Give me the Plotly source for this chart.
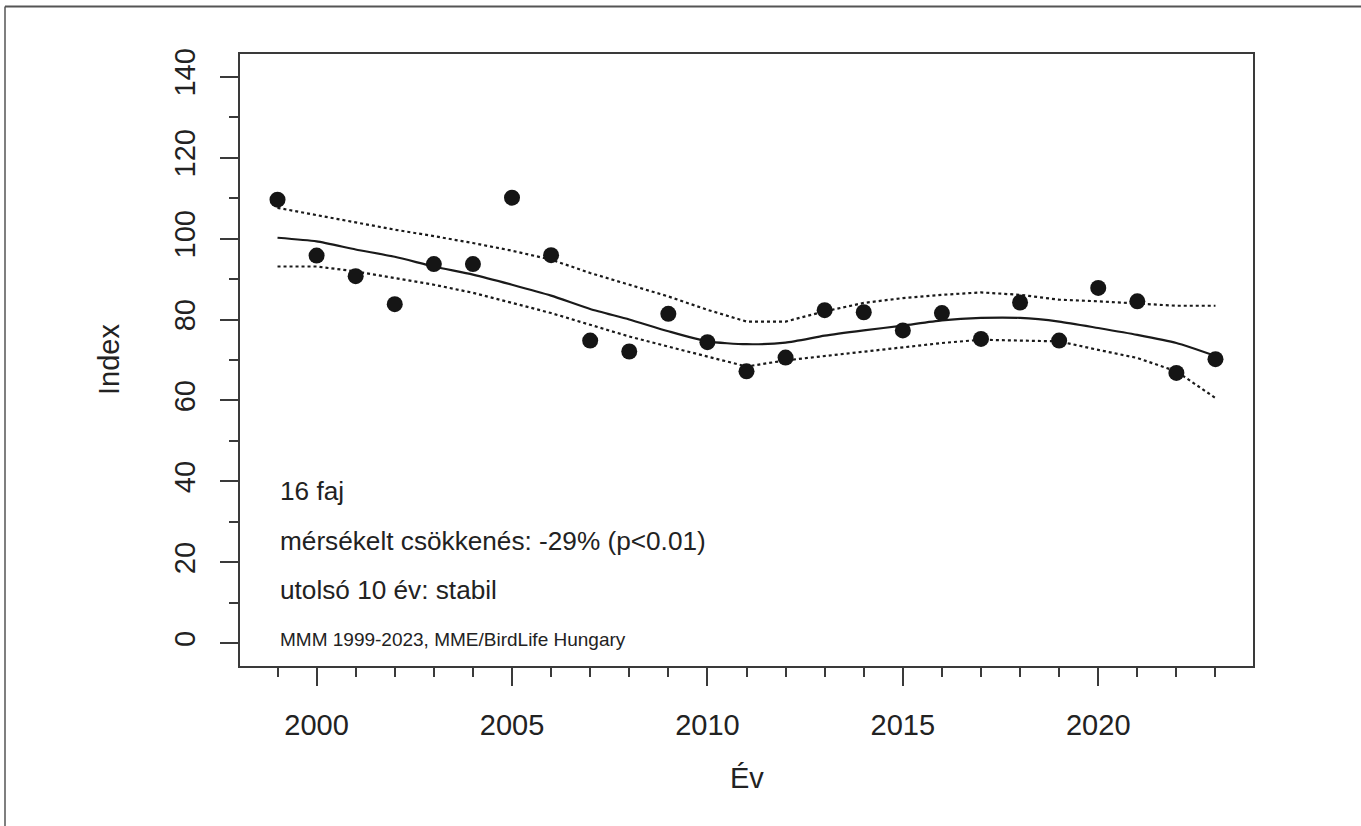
import plotly.graph_objects as go

years = list(range(1999, 2024))
index_vals = [109.6, 95.8, 90.7, 83.8, 93.7, 93.7, 110.1, 95.9, 74.8, 72.1, 81.4, 74.4, 67.2,
              70.6, 82.3, 81.8, 77.3, 81.6, 75.2, 84.2, 74.8, 87.8, 84.5, 66.8, 70.2]
trend = [100.2, 99.3, 97.3, 95.5, 93.1, 91.1, 88.6, 85.9, 82.6, 80.0, 77.1, 74.6, 73.9,
         74.3, 76.0, 77.3, 78.5, 79.8, 80.4, 80.4, 79.5, 77.9, 76.2, 74.2, 71.0]
upper = [107.6, 105.8, 103.9, 102.2, 100.6, 98.9, 97.0, 94.8, 91.5, 88.6, 85.7, 82.4, 79.5,
         79.5, 82.0, 84.1, 85.3, 86.1, 86.7, 86.1, 84.9, 84.5, 83.9, 83.4, 83.4]
lower = [93.1, 93.1, 91.9, 90.3, 88.6, 86.6, 84.1, 81.6, 78.7, 75.8, 73.3, 70.9, 68.4,
         69.9, 71.0, 72.1, 73.2, 74.2, 75.0, 74.8, 74.6, 72.5, 70.5, 67.2, 60.6]

x_ticks = [2000, 2005, 2010, 2015, 2020]
y_ticks = [0, 20, 40, 60, 80, 100, 120, 140]
info_lines = ["16 faj", "mérsékelt csökkenés: -29% (p<0.01)", "utolsó 10 év: stabil"]
credit = "MMM 1999-2023, MME/BirdLife Hungary"

FONT = "Liberation Sans, Arial, sans-serif"
TXT = "#222222"
AX = "#3a3a3a"

fig = go.Figure()
fig.add_trace(go.Scatter(x=years, y=upper, mode="lines",
                         line=dict(color="#1a1a1a", width=2.2, dash="dot"), hoverinfo="skip"))
fig.add_trace(go.Scatter(x=years, y=lower, mode="lines",
                         line=dict(color="#1a1a1a", width=2.2, dash="dot"), hoverinfo="skip"))
fig.add_trace(go.Scatter(x=years, y=trend, mode="lines", line=dict(color="#1a1a1a", width=2.2,
                         shape="spline", smoothing=0.6)))
fig.add_trace(go.Scatter(x=years, y=index_vals, mode="markers",
                         marker=dict(color="#151515", size=16, line=dict(width=0))))

L, R, T, B = 240, 108, 54, 160
W, H = 1361, 826
pw, ph = W - L - R, H - T - B

def px_x(p):
    return (p - L) / pw

def px_y(p):
    return (H - B - p) / ph

ann = []
ys = [37.6, 25.2, 13.1]
for t, yv in zip(info_lines, ys):
    ann.append(dict(x=1999, y=yv, xref="x", yref="y", text=t, showarrow=False,
                    xanchor="left", yanchor="middle", font=dict(family=FONT, size=26.2, color=TXT)))
ann.append(dict(x=1999, y=0.9, xref="x", yref="y", text=credit, showarrow=False,
                xanchor="left", yanchor="middle", font=dict(family=FONT, size=19, color=TXT)))
ann.append(dict(x=px_x(109), y=0.5, xref="paper", yref="paper", text="Index", showarrow=False,
                textangle=-90, xanchor="center", yanchor="middle",
                font=dict(family=FONT, size=29, color=TXT)))
ann.append(dict(x=0.5, y=px_y(778), xref="paper", yref="paper", text="Év", showarrow=False,
                xanchor="center", yanchor="middle", font=dict(family=FONT, size=29, color=TXT)))

shapes = [
    dict(type="line", xref="paper", yref="paper", x0=px_x(5), x1=px_x(1400), y0=px_y(6.5), y1=px_y(6.5),
         line=dict(color="#555555", width=2)),
    dict(type="line", xref="paper", yref="paper", x0=px_x(5), x1=px_x(5), y0=px_y(6.5), y1=px_y(900),
         line=dict(color="#555555", width=1.5)),
]

fig.update_layout(
    width=W, height=H, margin=dict(l=L, r=R, t=T, b=B),
    paper_bgcolor="white", plot_bgcolor="white", showlegend=False,
    annotations=ann, shapes=shapes,
    xaxis=dict(range=[1998.04, 2023.96], tickvals=x_ticks, ticks="outside", ticklen=18,
               tickwidth=2, tickcolor=AX, showline=True, linecolor=AX, linewidth=2, mirror=True,
               showgrid=False, zeroline=False, ticklabelstandoff=14,
               tickfont=dict(family=FONT, size=29, color=TXT),
               minor=dict(dtick=1, tick0=1999, ticks="outside", ticklen=9, tickwidth=2, tickcolor=AX,
                          showgrid=False)),
    yaxis=dict(range=[-5.6, 145.6], tickvals=y_ticks, ticks="outside", ticklen=18,
               tickwidth=2, tickcolor=AX, showline=True, linecolor=AX, linewidth=2, mirror=True,
               showgrid=False, zeroline=False, tickangle=-90, ticklabelstandoff=13,
               tickfont=dict(family=FONT, size=29, color=TXT),
               minor=dict(dtick=10, tick0=0, ticks="outside", ticklen=9, tickwidth=2, tickcolor=AX,
                          showgrid=False)),
)

fig.write_html("out.html", config={"displayModeBar": False},
               post_script="document.body.style.margin='0px';document.body.style.overflow='hidden';")
